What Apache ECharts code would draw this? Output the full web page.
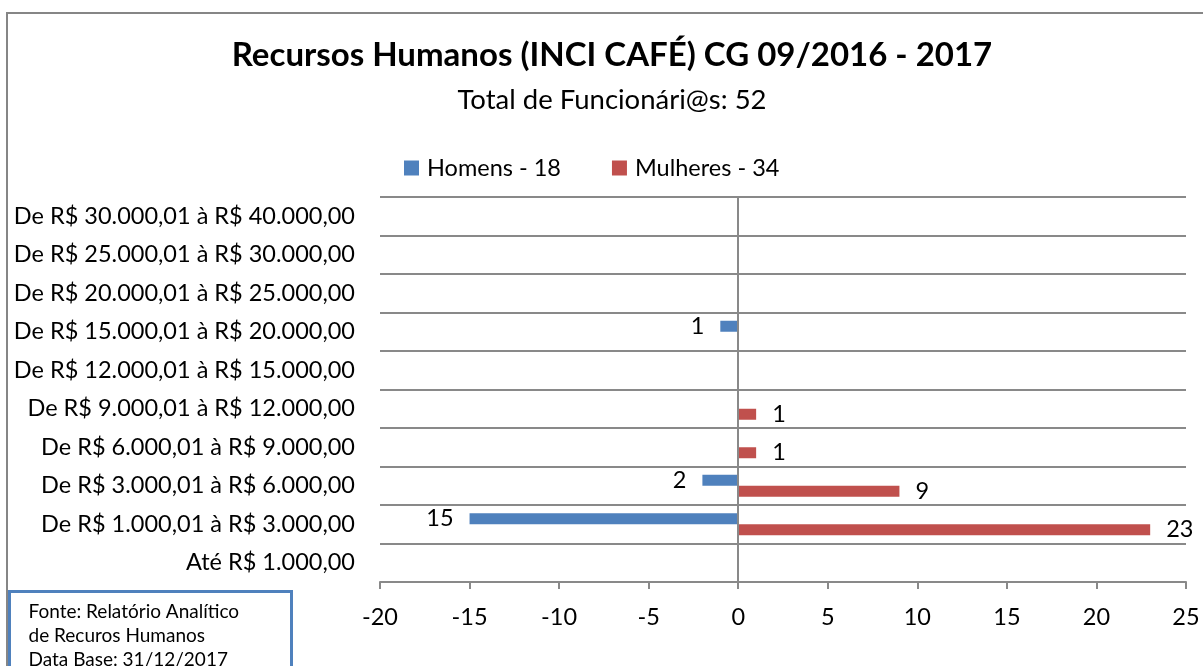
<!DOCTYPE html>
<html>
<head>
<meta charset="utf-8">
<title>Recursos Humanos</title>
<script src="https://cdn.jsdelivr.net/npm/echarts@6/dist/echarts.min.js"></script>
<style>
  html, body { margin: 0; padding: 0; background: #fff; }
  #main { width: 1203px; height: 666px; }
</style>
</head>
<body>
<div id="main"></div>
<script>
// faixas salariais (de baixo para cima)
var faixas = [
  'Até R$ 1.000,00',
  'De R$ 1.000,01 à R$ 3.000,00',
  'De R$ 3.000,01 à R$ 6.000,00',
  'De R$ 6.000,01 à R$ 9.000,00',
  'De R$ 9.000,01 à R$ 12.000,00',
  'De R$ 12.000,01 à R$ 15.000,00',
  'De R$ 15.000,01 à R$ 20.000,00',
  'De R$ 20.000,01 à R$ 25.000,00',
  'De R$ 25.000,01 à R$ 30.000,00',
  'De R$ 30.000,01 à R$ 40.000,00'
];
var homens = [0, -15, -2, 0, 0, 0, -1, 0, 0, 0];
var mulheres = [0, 23, 9, 1, 1, 0, 0, 0, 0, 0];
var nomes = ['Homens - 18', 'Mulheres - 34'];
var eixoMin = -20, eixoMax = 25, eixoPasso = 5;
var fonteLinhas = ['Fonte: Relatório Analítico', 'de Recuros Humanos', 'Data Base: 31/12/2017'];

var FONT = 'Lato, "Noto Sans", sans-serif';
var GRID = '#898989';
var TAM = 23.5;

function rotulo (p) {
  return p.value === 0 ? '' : String(Math.abs(p.value));
}

function desenha () {
  var myChart = echarts.init(document.getElementById('main'));

  var option = {
    animation: false,
    title: [
      {
        text: 'Recursos Humanos (INCI CAFÉ) CG 09/2016 - 2017',
        left: 612, top: 39, textAlign: 'center', padding: 0,
        textStyle: { fontFamily: FONT, fontSize: 33, fontWeight: 'bold', color: '#000' }
      },
      {
        text: 'Total de Funcionári@s: 52',
        left: 612, top: 86, textAlign: 'center', padding: 0,
        textStyle: { fontFamily: FONT, fontSize: 27.5, fontWeight: 'normal', color: '#000' }
      }
    ],
    legend: {
      data: nomes,
      left: 404, top: 156, padding: 0,
      icon: 'rect', itemWidth: 15, itemHeight: 15, itemGap: 51,
      textStyle: { fontFamily: FONT, fontSize: TAM, color: '#000', padding: [0, 0, 0, 3] }
    },
    grid: { left: 380, right: 17, top: 197, bottom: 84, containLabel: false, outerBoundsMode: 'none' },
    xAxis: {
      type: 'value', min: eixoMin, max: eixoMax, interval: eixoPasso,
      axisLine: { show: true, lineStyle: { color: GRID, width: 2 } },
      axisTick: { show: true, length: 7, lineStyle: { color: GRID, width: 2 } },
      splitLine: { show: false },
      axisLabel: { fontFamily: FONT, fontSize: TAM, color: '#000', margin: 23 }
    },
    yAxis: {
      type: 'category', data: faixas,
      axisLine: { show: false },
      axisTick: { show: false },
      splitLine: { show: true, lineStyle: { color: GRID, width: 2 } },
      axisLabel: { fontFamily: FONT, fontSize: TAM, color: '#000', margin: 25 }
    },
    series: [
      {
        name: nomes[0], type: 'bar', data: homens,
        barWidth: 11, barGap: '0%',
        itemStyle: { color: '#4F81BD' },
        label: { show: true, position: 'left', distance: 16, formatter: rotulo,
                 fontFamily: FONT, fontSize: TAM, color: '#000' },
        markLine: {
          silent: true, symbol: ['none', 'none'],
          label: { show: false },
          lineStyle: { color: GRID, width: 2, type: 'solid' },
          data: [{ xAxis: 0 }]
        }
      },
      {
        name: nomes[1], type: 'bar', data: mulheres,
        barWidth: 11, barGap: '0%',
        itemStyle: { color: '#C0504D' },
        label: { show: true, position: 'right', distance: 16, formatter: rotulo,
                 fontFamily: FONT, fontSize: TAM, color: '#000' }
      }
    ],
    graphic: [
      {
        type: 'rect', z: -10, silent: true,
        shape: { x: 7, y: 13, width: 1300, height: 800 },
        style: { fill: 'none', stroke: '#868686', lineWidth: 2 }
      },
      {
        type: 'group', left: 8, top: 590, z: 100,
        children: [
          {
            type: 'rect',
            shape: { x: 0, y: 0, width: 282, height: 100 },
            style: { fill: '#fff', stroke: '#4F81BD', lineWidth: 3 }
          },
          {
            type: 'text', x: 19, y: 8,
            style: { text: fonteLinhas.join('\n'), fontFamily: FONT, fontSize: 19,
                     lineHeight: 24, fill: '#000' }
          }
        ]
      }
    ]
  };

  myChart.setOption(option);
}

desenha();
</script>
</body>
</html>
